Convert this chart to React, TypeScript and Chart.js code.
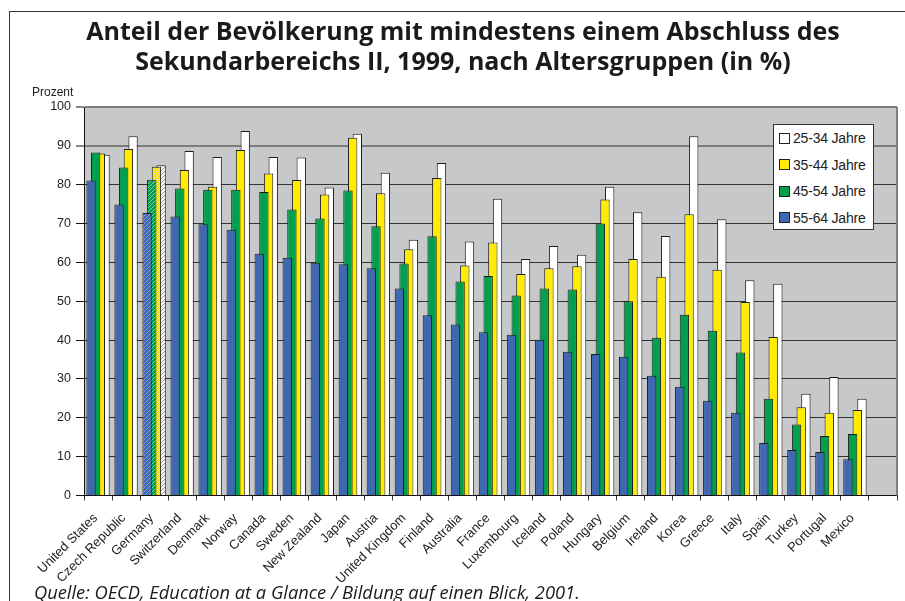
import React, { useEffect, useRef } from "react";
import { Chart, registerables } from "chart.js";

Chart.register(...registerables);

// ---- data ----
const categories = [
  "United States", "Czech Republic", "Germany", "Switzerland", "Denmark", "Norway",
  "Canada", "Sweden", "New Zealand", "Japan", "Austria", "United Kingdom", "Finland",
  "Australia", "France", "Luxembourg", "Iceland", "Poland", "Hungary", "Belgium",
  "Ireland", "Korea", "Greece", "Italy", "Spain", "Turkey", "Portugal", "Mexico", "",
];
const age55_64 = [81.1, 74.9, 72.7, 71.8, 69.8, 68.4, 62.2, 61.2, 59.9, 59.5, 58.5, 53.3, 46.4, 44.0, 42.0, 41.4, 40.1, 37.0, 36.4, 35.7, 30.8, 28.0, 24.4, 21.3, 13.5, 11.7, 11.2, 9.3, null];
const age45_54 = [88.3, 84.4, 81.3, 79.0, 78.7, 78.7, 78.1, 73.6, 71.3, 78.5, 69.3, 59.7, 66.7, 55.1, 56.5, 51.5, 53.3, 53.0, 70.0, 50.0, 40.6, 46.5, 42.4, 36.8, 24.9, 18.3, 15.3, 15.8, null];
const age35_44 = [88.0, 89.2, 84.6, 83.8, 79.5, 88.9, 82.9, 81.2, 77.5, 92.1, 77.8, 63.4, 81.7, 59.2, 65.1, 57.0, 58.5, 59.0, 76.2, 60.9, 56.3, 72.4, 58.1, 49.8, 40.8, 22.7, 21.3, 22.0, null];
const age25_34 = [87.7, 92.5, 85.0, 88.7, 87.1, 93.8, 87.1, 87.0, 79.3, 93.1, 83.1, 65.8, 85.6, 65.4, 76.4, 60.9, 64.2, 62.0, 79.5, 72.9, 66.8, 92.5, 71.1, 55.4, 54.5, 26.2, 30.5, 24.9, null];
const seriesLabels = ["55-64 Jahre", "45-54 Jahre", "35-44 Jahre", "25-34 Jahre"];
const seriesColors = ["#3f68b1", "#00a04f", "#ffec00", "#ffffff"];
const hatchStripes = ["#8fa3cf", "#7fcfa5", "#c9c9c9", "#9a9a9a"];
const hatchedCategories = ["Germany"];
const yMin = 0;
const yMax = 100;
const yStep = 10;

const TITLE_1 = "Anteil der Bevölkerung mit mindestens einem Abschluss des";
const TITLE_2 = "Sekundarbereichs II, 1999, nach Altersgruppen (in %)";
const SOURCE = "Quelle: OECD, Education at a Glance / Bildung auf einen Blick, 2001.";
const Y_TITLE = "Prozent";

const AXIS_FONT = "'Liberation Sans', Arial, sans-serif";

function hatch(color: string, stripe: string) {
  const c = document.createElement("canvas");
  c.width = 4;
  c.height = 4;
  const g = c.getContext("2d")!;
  g.fillStyle = color;
  g.fillRect(0, 0, 4, 4);
  g.strokeStyle = stripe;
  g.lineWidth = 1;
  g.beginPath();
  g.moveTo(-1, 5); g.lineTo(5, -1);
  g.moveTo(-3, 3); g.lineTo(3, -3);
  g.moveTo(1, 7); g.lineTo(7, 1);
  g.stroke();
  return g.createPattern(c, "repeat");
}

const plotDeco = {
  id: "plotDeco",
  beforeDraw(chart: any) {
    const { ctx, chartArea: a } = chart;
    ctx.save();
    ctx.fillStyle = "#c7c8ca";
    ctx.fillRect(a.left, a.top, a.right - a.left, a.bottom - a.top);
    ctx.restore();
  },
  afterDatasetsDraw(chart: any) {
    const { ctx, chartArea: a } = chart;
    ctx.save();
    ctx.strokeStyle = "#808080";
    ctx.lineWidth = 2;
    ctx.beginPath();
    ctx.moveTo(a.right, a.top);
    ctx.lineTo(a.right, a.bottom);
    ctx.stroke();
    ctx.restore();
  },
};

export default function App() {
  const ref = useRef<HTMLCanvasElement>(null);

  useEffect(() => {
    if (!ref.current) return;
    const series = [age55_64, age45_54, age35_44, age25_34];
    const datasets = series.map((d, i) => {
      const pat = hatch(seriesColors[i], hatchStripes[i]);
      return {
        label: seriesLabels[i],
        data: d,
        backgroundColor: categories.map((c) => (hatchedCategories.includes(c) ? pat : seriesColors[i])),
        borderColor: "#1e1e1e",
        borderWidth: 1,
        categoryPercentage: 0.667,
        barPercentage: 2.0,
      };
    });
    const chart = new Chart(ref.current, {
      type: "bar",
      data: { labels: categories, datasets: datasets as any },
      plugins: [plotDeco],
      options: {
        animation: false,
        responsive: false,
        devicePixelRatio: 1,
        layout: { padding: { left: 0, top: 107, right: 8, bottom: 0 } },
        plugins: {
          legend: { display: false },
          title: { display: false },
          tooltip: { enabled: false },
        },
        scales: {
          x: {
            offset: true,
            grid: {
              offset: true,
              drawOnChartArea: false,
              drawTicks: true,
              tickLength: 5,
              color: "#333",
            },
            border: { color: "#111", width: 1 },
            ticks: {
              autoSkip: false,
              minRotation: 45,
              maxRotation: 45,
              padding: 10,
              labelOffset: -2.5,
              color: "#222",
              font: { family: AXIS_FONT, size: 13 },
            },
            afterFit(scale: any) {
              scale.height = 105.5;
            },
          },
          y: {
            min: yMin,
            max: yMax,
            ticks: {
              stepSize: yStep,
              padding: 5,
              color: "#222",
              font: { family: AXIS_FONT, size: 12.5 },
            },
            grid: {
              color: (c: any) => (c.tick && (c.tick.value === 90 || c.tick.value === 100) ? "#7d7d7d" : "#333"),
              lineWidth: (c: any) => (c.tick && (c.tick.value === 90 || c.tick.value === 100) ? 2 : 1),
              tickColor: "#111",
              tickLength: 8,
              tickWidth: 1,
            },
            border: { color: "#111", width: 1 },
            afterFit(scale: any) {
              scale.width = 84;
            },
          },
        },
      },
    });
    return () => chart.destroy();
  }, []);

  const legendItems = [...seriesLabels.map((l, i) => ({ l, c: seriesColors[i] }))].reverse();

  return (
    <div style={{ position: "absolute", left: 0, top: 0, width: 905, height: 601, overflow: "hidden", background: "#fff" }}>
      <div style={{ position: "absolute", left: 9, top: 11, width: 1000, height: 700, borderLeft: "1.5px solid #333", borderTop: "1.5px solid #333" }} />
      <canvas ref={ref} width={905} height={601} style={{ position: "absolute", left: 0, top: 0, width: 905, height: 601 }} />
      <div
        style={{
          position: "absolute",
          left: 20,
          top: 15,
          width: 886,
          textAlign: "center",
          fontFamily: "'Open Sans', sans-serif",
          fontWeight: 700,
          fontSize: 25,
          lineHeight: "30px",
          color: "#1a1a1a",
          whiteSpace: "nowrap",
        }}
      >
        <div>{TITLE_1}</div>
        <div>{TITLE_2}</div>
      </div>
      <div style={{ position: "absolute", left: 32, top: 84, fontFamily: AXIS_FONT, fontSize: 12, lineHeight: "16px", color: "#222" }}>
        {Y_TITLE}
      </div>
      <div
        style={{
          position: "absolute",
          left: 773,
          top: 124,
          width: 99,
          height: 104,
          background: "#fff",
          border: "1px solid #333",
        }}
      >
        {legendItems.map((it, i) => (
          <div key={it.l} style={{ position: "absolute", left: 5, top: 4 + i * 26.5, height: 18, display: "flex", alignItems: "center" }}>
            <div style={{ width: 9, height: 9, background: it.c, border: "1px solid #222" }} />
            <div style={{ marginLeft: 3, fontFamily: AXIS_FONT, fontSize: 14, color: "#222", whiteSpace: "nowrap", letterSpacing: -0.2 }}>{it.l}</div>
          </div>
        ))}
      </div>
      <div
        style={{
          position: "absolute",
          left: 34,
          top: 580,
          fontFamily: "'Open Sans', sans-serif",
          fontStyle: "italic",
          fontSize: 18.3,
          lineHeight: "24px",
          color: "#1a1a1a",
          whiteSpace: "nowrap",
        }}
      >
        {SOURCE}
      </div>
    </div>
  );
}
